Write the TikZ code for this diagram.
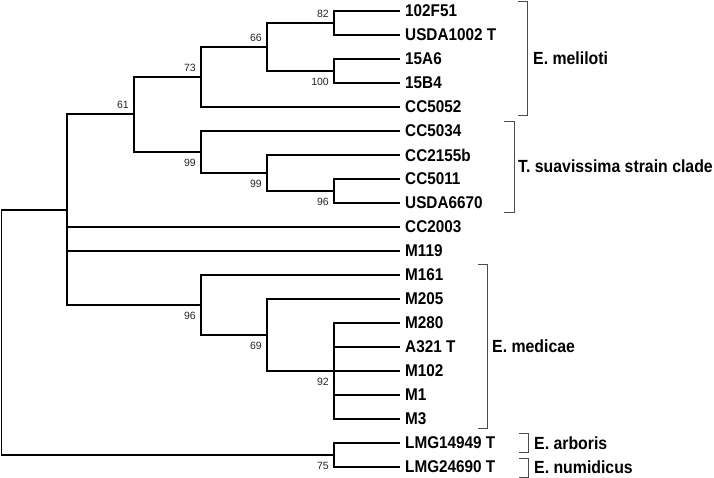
\documentclass[tikz,border=0pt]{standalone}
\usepackage{fontspec}
\usepackage{tikz}
\newfontfamily\treefont[FakeStretch=0.9]{Liberation Sans}
\setmainfont{Liberation Sans}

\tikzset{
  branch/.style={line width=1.4pt},
  clade/.style={line width=0.8pt, color=black!70},
  leaf/.style={anchor=west, inner xsep=5pt, inner ysep=0pt, font=\treefont\bfseries\fontsize{17}{17}\selectfont},
  group/.style={anchor=west, inner sep=0pt, font=\treefont\bfseries\fontsize{17.6}{18}\selectfont},
  bootup/.style={anchor=south east, inner sep=1pt, xshift=-4pt, yshift=4pt, text=black!85, font=\fontsize{10.5}{12}\selectfont},
  bootdown/.style={anchor=north east, inner sep=1pt, xshift=-4pt, yshift=-6pt, text=black!85, font=\fontsize{10.5}{12}\selectfont}
}

\begin{document}
\begin{tikzpicture}[x=1pt, y=-1pt]
% albero dei ceppi - valori di bootstrap ai nodi interni
\useasboundingbox (0,0) rectangle (714,477);

\coordinate (Nroot) at (1.5,332);
\coordinate (N67) at (67,210);
\coordinate (N61) at (134,114);
\coordinate (N73) at (201,77);
\coordinate (N66) at (267,47);
\coordinate (N82) at (334,23);
\coordinate (N100) at (334,71);
\coordinate (N99a) at (201,152);
\coordinate (N99b) at (267,173);
\coordinate (N96a) at (334,191);
\coordinate (N96b) at (201,305);
\coordinate (N69) at (267,335);
\coordinate (N92) at (334,371);
\coordinate (N75) at (334,455);

\node[leaf] (L1) at (400,11) {102F51};
\node[leaf] (L2) at (400,35) {USDA1002 T};
\node[leaf] (L3) at (400,59) {15A6};
\node[leaf] (L4) at (400,83) {15B4};
\node[leaf] (L5) at (400,107) {CC5052};
\node[leaf] (L6) at (400,131) {CC5034};
\node[leaf] (L7) at (400,155) {CC2155b};
\node[leaf] (L8) at (400,179) {CC5011};
\node[leaf] (L9) at (400,203) {USDA6670};
\node[leaf] (L10) at (400,227) {CC2003};
\node[leaf] (L11) at (400,251) {M119};
\node[leaf] (L12) at (400,275) {M161};
\node[leaf] (L13) at (400,299) {M205};
\node[leaf] (L14) at (400,323) {M280};
\node[leaf] (L15) at (400,347) {A321 T};
\node[leaf] (L16) at (400,371) {M102};
\node[leaf] (L17) at (400,395) {M1};
\node[leaf] (L18) at (400,419) {M3};
\node[leaf] (L19) at (400,443) {LMG14949 T};
\node[leaf] (L20) at (400,467) {LMG24690 T};

\draw[branch] (Nroot) |- (N67);
\draw[branch] (Nroot) |- (N75);

\draw[branch] (N67) |- (N61);
\draw[branch] (N67) |- (L10.west);
\draw[branch] (N67) |- (L11.west);
\draw[branch] (N67) |- (N96b);

\draw[branch] (N61) |- (N73);
\draw[branch] (N61) |- (N99a);

\draw[branch] (N73) |- (N66);
\draw[branch] (N73) |- (L5.west);
\draw[branch] (N66) |- (N82);
\draw[branch] (N66) |- (N100);
\draw[branch] (N82) |- (L1.west);
\draw[branch] (N82) |- (L2.west);
\draw[branch] (N100) |- (L3.west);
\draw[branch] (N100) |- (L4.west);

\draw[branch] (N99a) |- (L6.west);
\draw[branch] (N99a) |- (N99b);
\draw[branch] (N99b) |- (L7.west);
\draw[branch] (N99b) |- (N96a);
\draw[branch] (N96a) |- (L8.west);
\draw[branch] (N96a) |- (L9.west);

\draw[branch] (N96b) |- (L12.west);
\draw[branch] (N96b) |- (N69);
\draw[branch] (N69) |- (L13.west);
\draw[branch] (N69) |- (N92);
\draw[branch] (N92) |- (L14.west);
\draw[branch] (N92) |- (L15.west);
\draw[branch] (N92) |- (L16.west);
\draw[branch] (N92) |- (L17.west);
\draw[branch] (N92) |- (L18.west);

\draw[branch] (N75) |- (L19.west);
\draw[branch] (N75) |- (L20.west);

\node[bootup] (b82) at (N82) {82};
\node[bootup] (b66) at (N66) {66};
\node[bootup] (b73) at (N73) {73};
\node[bootup] (b61) at (N61) {61};
\node[bootdown] (b100) at (N100) {100};
\node[bootdown] (b99a) at (N99a) {99};
\node[bootdown] (b99b) at (N99b) {99};
\node[bootdown] (b96a) at (N96a) {96};
\node[bootdown] (b96b) at (N96b) {96};
\node[bootdown] (b69) at (N69) {69};
\node[bootdown] (b92) at (N92) {92};
\node[bootdown] (b75) at (N75) {75};

\draw[clade] (518,1) -| (527,115) -- (518,115);
\node[group] (Gmel) at (533,58) {E. meliloti};

\draw[clade] (504,121) -| (514,212) -- (504,212);
\node[group] (Gsua) at (518,166) {T. suavissima strain clade};

\draw[clade] (478,264) -| (487,428) -- (478,428);
\node[group] (Gmed) at (492,346) {E. medicae};

\draw[clade] (519,433) -| (528,452) -- (519,452);
\node[group] (Garb) at (534,443) {E. arboris};

\draw[clade] (519,458) -| (528,477) -- (519,477);
\node[group] (Gnum) at (534,467) {E. numidicus};

\end{tikzpicture}
\end{document}
